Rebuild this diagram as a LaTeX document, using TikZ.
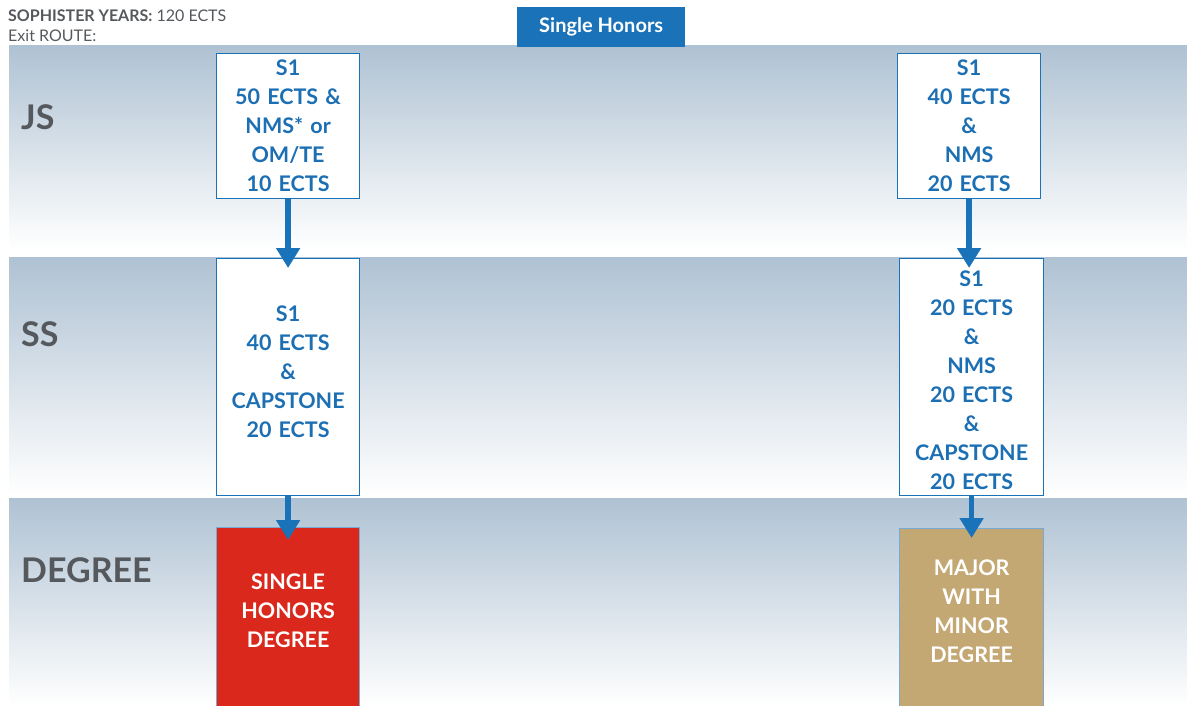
\documentclass[tikz,border=0pt]{standalone}
\usepackage{fontspec}
\setmainfont{Lato}
\usetikzlibrary{arrows.meta}
\definecolor{hdblue}{HTML}{1A72B8}
\definecolor{txtblue}{HTML}{1C6FB3}
\definecolor{bandtop}{HTML}{AFC2D3}
\definecolor{bandmid}{HTML}{E2E9EF}
\definecolor{lblgrey}{HTML}{55595D}
\definecolor{degred}{HTML}{DA291C}
\definecolor{degtan}{HTML}{C4A874}

\begin{document}
\begin{tikzpicture}[x=1pt,y=-1pt,
    stepbox/.style={draw=hdblue, line width=1.2pt, fill=white, anchor=north west,
        minimum width=143pt, text width=142pt, align=center, inner sep=0pt,
        font=\fontsize{21.5}{29}\selectfont\bfseries, text=txtblue},
    degbox/.style={stepbox, draw=hdblue!60, text=white},
    flow/.style={draw=hdblue, line width=5.5pt, -{Triangle[width=23pt,length=20pt]}},
    rowlabel/.style={anchor=west, inner sep=0pt, font=\fontsize{34}{34}\selectfont\bfseries, text=lblgrey},
    headtext/.style={anchor=west, inner sep=0pt, font=\fontsize{16}{16}\selectfont, text=lblgrey}]
    \useasboundingbox (0,0) rectangle (1187,706);

    \foreach \ya/\yb in {46/249,257/496,498/706}
    {
        \shade[top color=bandtop, middle color=bandmid, bottom color=white] (9,\ya) rectangle (1187,\yb);
    }

    \node[headtext] (years) at (8,16) {\textbf{SOPHISTER YEARS:} 120 ECTS};
    \node[headtext] (exit) at (8,36) {Exit ROUTE:};
    \node[fill=hdblue, text=white, anchor=north west, inner sep=0pt, minimum width=168pt,
        minimum height=40pt, font=\fontsize{20}{20}\selectfont\bfseries] (title) at (517,7) {Single Honors};

    \node[rowlabel] (js) at (21,117) {JS};
    \node[rowlabel] (ss) at (21,334) {SS};
    \node[rowlabel] (degree) at (21,570) {DEGREE};

    \node[stepbox, minimum height=145pt] (js1) at (216,53) {S1\\50 ECTS \&\\NMS* or\\OM/TE\\10 ECTS};
    \node[stepbox, minimum height=237pt] (ss1) at (216,258) {S1\\40 ECTS\\\&\\CAPSTONE\\20 ECTS\\[-19pt]\mbox{}};
    \node[degbox, fill=degred, minimum height=185pt] (deg1) at (216,527) {SINGLE\\HONORS\\DEGREE\\[-10pt]\mbox{}};

    \node[stepbox, minimum height=145pt] (js2) at (897,53) {S1\\40 ECTS\\\&\\NMS\\20 ECTS};
    \node[stepbox, minimum width=144pt, minimum height=237pt] (ss2) at (899,258) {\mbox{}\\[-8pt]S1\\20 ECTS\\\&\\NMS\\20 ECTS\\\&\\CAPSTONE\\20 ECTS};
    \node[degbox, fill=degtan, minimum width=144pt, minimum height=185pt] (deg2) at (899,528) {MAJOR\\WITH\\MINOR\\DEGREE\\[-10pt]\mbox{}};

    \draw[flow] (js1.south) -- ([yshift=-10pt]ss1.north);
    \draw[flow] (ss1.south) -- ([yshift=-13pt]deg1.north);
    \draw[flow] (js2.south) -- ([yshift=-10pt]js2.south |- ss2.north);
    \draw[flow] (ss2.south) -- ([yshift=-10pt]deg2.north);
\end{tikzpicture}
\end{document}
